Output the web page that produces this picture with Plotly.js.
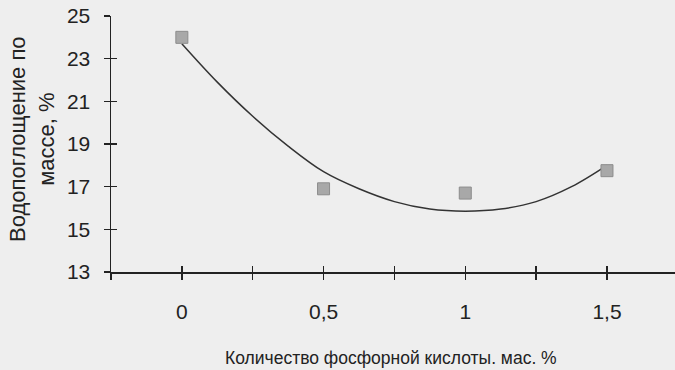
<!DOCTYPE html>
<html>
<head>
<meta charset="utf-8">
<script src="https://cdn.plot.ly/plotly-3.0.1.min.js"></script>
<style>html,body{margin:0;padding:0;background:#eeeeee;}#chart{width:675px;height:370px;}</style>
</head>
<body>
<div id="chart"></div>
<script>
// Measured points
var acidAmount = [0, 0.5, 1, 1.5];
var waterAbsorption = [24.0, 16.9, 16.7, 17.75];
// Trend curve
var trendX = [0, 0.125, 0.25, 0.375, 0.5, 0.625, 0.75, 0.875, 1.0, 1.125, 1.25, 1.375, 1.5];
var trendY = [23.7, 21.9, 20.3, 18.9, 17.7, 16.9, 16.3, 15.95, 15.85, 15.95, 16.3, 17.0, 18.0];
// Tick values and labels
var xTickVals = [-0.25, 0, 0.25, 0.5, 0.75, 1, 1.25, 1.5];
var xTickText = ['', '0', '', '0,5', '', '1', '', '1,5'];
var yTickVals = [13, 15, 17, 19, 21, 23, 25];
var yTickText = ['13', '15', '17', '19', '21', '23', '25'];
var xTitle = 'Количество фосфорной кислоты. мас. %';
var yTitle = 'Водопоглощение по<br>массе, %';

var FONT = '"Liberation Sans", Arial, sans-serif';
var XR = [-0.25, 1.74], YR = [13, 25];

var data = [
  {x: trendX, y: trendY, type: 'scatter', mode: 'lines', line: {color: '#333333', width: 1.5, shape: 'spline'}, hoverinfo: 'skip'},
  {x: acidAmount, y: waterAbsorption, type: 'scatter', mode: 'markers',
   marker: {symbol: 'square', size: 12, color: '#a8a8a8', line: {color: '#8c8c8c', width: 1}}},
  {x: [], y: [], xaxis: 'x2', yaxis: 'y2', type: 'scatter', hoverinfo: 'skip'}
];

var axBase = {showgrid: false, zeroline: false, showline: true, linecolor: '#222', linewidth: 1.5,
  tickcolor: '#222', tickwidth: 1.3, ticklen: 6, tickfont: {family: FONT, size: 21, color: '#222'}};

var layout = {
  width: 675, height: 370,
  margin: {l: 111, r: 0, t: 16, b: 98},
  paper_bgcolor: '#eeeeee', plot_bgcolor: '#eeeeee',
  showlegend: false,
  xaxis: Object.assign({}, axBase, {range: XR, tickmode: 'array', tickvals: xTickVals, ticktext: xTickText,
    ticks: 'outside', ticklabelstandoff: 14, anchor: 'y'}),
  yaxis: Object.assign({}, axBase, {range: YR, tickmode: 'array', tickvals: yTickVals, ticktext: yTickText,
    ticks: 'outside', ticklabelstandoff: 9, anchor: 'x'}),
  xaxis2: Object.assign({}, axBase, {range: XR, tickmode: 'array', tickvals: xTickVals, ticks: 'inside',
    showticklabels: false, overlaying: 'x', anchor: 'y2', side: 'bottom'}),
  yaxis2: Object.assign({}, axBase, {range: YR, tickmode: 'array', tickvals: yTickVals, ticks: 'inside',
    showticklabels: false, overlaying: 'y', anchor: 'x2', side: 'left'}),
  annotations: [
    {text: xTitle, xref: 'paper', yref: 'paper', x: 0.497, y: -0.336, xanchor: 'center', yanchor: 'middle',
     showarrow: false, font: {family: FONT, size: 17.5, color: '#222'}},
    {text: yTitle, xref: 'paper', yref: 'paper', x: -0.14, y: 0.52, xanchor: 'center', yanchor: 'middle',
     textangle: -90, showarrow: false, font: {family: FONT, size: 22, color: '#222'}}
  ]
};

Plotly.newPlot('chart', data, layout, {displayModeBar: false, staticPlot: true});
</script>
</body>
</html>
